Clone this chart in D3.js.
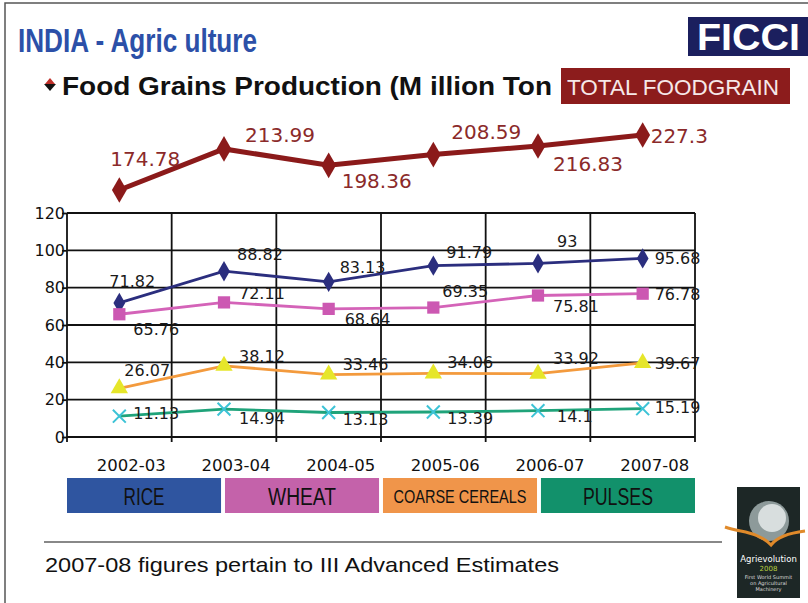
<!DOCTYPE html>
<html>
<head>
<meta charset="utf-8">
<script src="https://cdn.jsdelivr.net/npm/d3@7"></script>
<style>
  body { margin: 0; background: #fff; }
  svg { display: block; }
</style>
</head>
<body>
<svg id="slide" width="808" height="603"></svg>
<script>
// data
const years = ['2002-03', '2003-04', '2004-05', '2005-06', '2006-07', '2007-08'];
const total = [174.78, 213.99, 198.36, 208.59, 216.83, 227.3];
const rice = [71.82, 88.82, 83.13, 91.79, 93, 95.68];
const wheat = [65.76, 72.11, 68.64, 69.35, 75.81, 76.78];
const coarse = [26.07, 38.12, 33.46, 34.06, 33.92, 39.67];
const pulses = [11.13, 14.94, 13.13, 13.39, 14.1, 15.19];
const yTicks = [0, 20, 40, 60, 80, 100, 120];
const legendLabels = ['RICE', 'WHEAT', 'COARSE CEREALS', 'PULSES'];

// label placement (start x offset, centre y offset) per point
const totalLabelPos = [[-9, -31], [21, -14], [13, 15], [18, -23], [15, 18], [8, 1]];
const riceLabelPos = [[-10, -22], [13, -17], [11, -15], [13, -13], [19, -22], [12, 0]];
const wheatLabelPos = [[14, 15], [15, -9], [16, 10], [9, -16], [15, 11], [12, 1]];
const coarseLabelPos = [[5, -18], [15, -10], [14, -10], [14, -11], [15, -15], [12, 0]];
const pulsesLabelPos = [[14, -3], [15, 9], [14, 7], [14, 6], [19, 6], [12, -1]];
// legend text widths, squeezed like the condensed face on the slide
const legendTextWidth = [41, 68, 133, 70];

const svg = d3.select('#slide');
const narrow = '"Liberation Sans Narrow", "Liberation Sans", Arial, sans-serif';
const plain = '"DejaVu Sans", Verdana, sans-serif';

// slide frame
svg.append('path')
  .attr('d', 'M5,603 V3 H808')
  .attr('fill', 'none')
  .attr('stroke', '#555')
  .attr('stroke-width', 1.5);

// header
svg.append('text')
  .attr('x', 18)
  .attr('y', 52)
  .attr('textLength', 239)
  .attr('lengthAdjust', 'spacingAndGlyphs')
  .style('font-family', narrow)
  .style('font-weight', 'bold')
  .style('font-size', '33px')
  .attr('fill', '#2c50a8')
  .text('INDIA - Agric ulture');

svg.append('rect')
  .attr('x', 688).attr('y', 17)
  .attr('width', 120).attr('height', 39)
  .attr('fill', '#1b1f5e');
svg.append('text')
  .attr('x', 697)
  .attr('y', 50)
  .attr('textLength', 103)
  .attr('lengthAdjust', 'spacingAndGlyphs')
  .style('font-family', '"Liberation Sans", Arial, sans-serif')
  .style('font-weight', 'bold')
  .style('font-size', '36px')
  .attr('fill', '#fff')
  .text('FICCI');

// bullet
svg.append('path').attr('d', 'M45,84 L50,78 L55,84 Z').attr('fill', '#c0302a');
svg.append('path').attr('d', 'M44,84 L56,84 L50,91 Z').attr('fill', '#111');

svg.append('text')
  .attr('x', 62)
  .attr('y', 95)
  .attr('textLength', 490)
  .attr('lengthAdjust', 'spacingAndGlyphs')
  .style('font-family', '"Liberation Sans", Arial, sans-serif')
  .style('font-weight', 'bold')
  .style('font-size', '25px')
  .attr('fill', '#111')
  .text('Food Grains Production (M illion Ton');

svg.append('rect')
  .attr('x', 561).attr('y', 68)
  .attr('width', 229).attr('height', 36)
  .attr('fill', '#8c1c1c');
svg.append('text')
  .attr('x', 567)
  .attr('y', 95)
  .attr('textLength', 212)
  .attr('lengthAdjust', 'spacingAndGlyphs')
  .style('font-family', '"Liberation Sans", Arial, sans-serif')
  .style('font-size', '22px')
  .attr('fill', '#f6e8e8')
  .text('TOTAL FOODGRAIN');

// scales
const x = d3.scaleBand().domain(years).range([67, 695]).padding(0);
const y = d3.scaleLinear().domain([0, 120]).range([437, 213]);
const yTotal = d3.scaleLinear().domain([174.78, 227.3]).range([190, 135]);
const cx = (d, i) => x(years[i]) + x.bandwidth() / 2;

// grid
const grid = svg.append('g').attr('stroke', '#111').attr('stroke-width', 1.8);
grid.selectAll('line.h')
  .data(yTicks)
  .enter()
  .append('line')
  .attr('class', 'h')
  .attr('x1', 67).attr('x2', 695)
  .attr('y1', (d) => y(d)).attr('y2', (d) => y(d));
grid.selectAll('line.v')
  .data(years.map((d) => x(d)).concat([x.range()[1]]))
  .enter()
  .append('line')
  .attr('class', 'v')
  .attr('x1', (d) => d).attr('x2', (d) => d)
  .attr('y1', y(120)).attr('y2', y(0) + 5);

// y axis
const yAxis = svg.append('g')
  .attr('transform', 'translate(67,0)')
  .call(d3.axisLeft(y).tickValues(yTicks).tickSize(5).tickPadding(-3));
yAxis.select('.domain').remove();
yAxis.selectAll('line').attr('stroke', '#111').attr('stroke-width', 1.8);
yAxis.selectAll('text')
  .style('font-family', plain)
  .style('font-size', '16px')
  .attr('fill', '#111');

// x axis
const xAxis = svg.append('g')
  .attr('transform', `translate(0,${y(0)})`)
  .call(d3.axisBottom(x).tickSize(0).tickPadding(22));
xAxis.select('.domain').remove();
xAxis.selectAll('text')
  .attr('dx', 12)
  .style('font-family', plain)
  .style('font-size', '16.5px')
  .attr('fill', '#111');

// series
const series = [
  { values: rice, line: '#2b2e7e', fill: '#2b2e7e', shape: 'diamond', pos: riceLabelPos },
  { values: wheat, line: '#d463b8', fill: '#cc58b2', shape: 'square', pos: wheatLabelPos },
  { values: coarse, line: '#f39a3d', fill: '#e6e62a', shape: 'triangle', pos: coarseLabelPos },
  { values: pulses, line: '#1fa37a', fill: '#3cc3d6', shape: 'cross', pos: pulsesLabelPos },
];

const line = (yScale) => d3.line().x(cx).y((d) => yScale(d));

function marker(g, shape, color, size) {
  if (shape === 'cross') {
    g.append('path')
      .attr('d', d3.symbol(d3.symbolX, size))
      .attr('fill', 'none')
      .attr('stroke', color)
      .attr('stroke-width', 2);
  } else {
    const s = { diamond: d3.symbolDiamond, square: d3.symbolSquare, triangle: d3.symbolTriangle }[shape];
    g.append('path').attr('d', d3.symbol(s, size)).attr('fill', color);
  }
}

series.forEach((s) => {
  svg.append('path')
    .datum(s.values)
    .attr('d', line(y))
    .attr('fill', 'none')
    .attr('stroke', s.line)
    .attr('stroke-width', 2.8);
  svg.selectAll(null)
    .data(s.values)
    .enter()
    .append('g')
    .attr('transform', (d, i) => `translate(${cx(d, i)},${y(d)})`)
    .each(function () {
      const size = s.shape === 'square' ? 150 : s.shape === 'triangle' ? 130 : s.shape === 'cross' ? 110 : 120;
      marker(d3.select(this), s.shape, s.fill, size);
    });
  svg.selectAll(null)
    .data(s.values)
    .enter()
    .append('text')
    .attr('x', (d, i) => cx(d, i) + s.pos[i][0])
    .attr('y', (d, i) => y(d) + s.pos[i][1])
    .attr('dy', '0.36em')
    .style('font-family', plain)
    .style('font-size', '16px')
    .attr('fill', '#1a1a1a')
    .text((d) => d);
});

// total foodgrain line
svg.append('path')
  .datum(total)
  .attr('d', line(yTotal))
  .attr('fill', 'none')
  .attr('stroke', '#8b1a1a')
  .attr('stroke-width', 5);
svg.selectAll(null)
  .data(total)
  .enter()
  .append('path')
  .attr('transform', (d, i) => `translate(${cx(d, i)},${yTotal(d)})`)
  .attr('d', d3.symbol(d3.symbolDiamond, 190))
  .attr('fill', '#8b1a1a');
svg.selectAll(null)
  .data(total)
  .enter()
  .append('text')
  .attr('x', (d, i) => cx(d, i) + totalLabelPos[i][0])
  .attr('y', (d, i) => yTotal(d) + totalLabelPos[i][1])
  .attr('dy', '0.36em')
  .style('font-family', plain)
  .style('font-size', '20px')
  .attr('fill', '#8b2a2a')
  .text((d) => d);

// legend bar
const legendColors = ['#2f55a0', '#c462aa', '#f0954a', '#12916b'];
const lx = d3.scaleBand().domain(legendLabels).range([67, 695]).paddingInner(0.025);
const leg = svg.selectAll('g.leg')
  .data(legendLabels)
  .enter()
  .append('g')
  .attr('class', 'leg');
leg.append('rect')
  .attr('x', (d) => lx(d))
  .attr('y', 478)
  .attr('width', lx.bandwidth())
  .attr('height', 35)
  .attr('fill', (d, i) => legendColors[i]);
leg.append('text')
  .attr('x', (d, i) => lx(d) + (lx.bandwidth() - legendTextWidth[i]) / 2)
  .attr('y', (d) => (d.length > 8 ? 503 : 505))
  .attr('textLength', (d, i) => legendTextWidth[i])
  .attr('lengthAdjust', 'spacingAndGlyphs')
  .style('font-family', narrow)
  .style('font-size', (d) => (d.length > 8 ? '18px' : '23px'))
  .attr('fill', '#111')
  .text((d) => d);

// footnote
svg.append('line')
  .attr('x1', 44).attr('x2', 722)
  .attr('y1', 542).attr('y2', 542)
  .attr('stroke', '#888')
  .attr('stroke-width', 2);
svg.append('text')
  .attr('x', 45)
  .attr('y', 572)
  .attr('textLength', 514)
  .attr('lengthAdjust', 'spacingAndGlyphs')
  .style('font-family', '"Liberation Sans", Arial, sans-serif')
  .style('font-size', '21px')
  .attr('fill', '#111')
  .text('2007-08 figures pertain to III Advanced Estimates');

// Agrievolution badge
const badge = svg.append('g').attr('transform', 'translate(737,487)');
badge.append('rect').attr('width', 63).attr('height', 111).attr('fill', '#1d2726');
badge.append('circle').attr('cx', 32).attr('cy', 34).attr('r', 20).attr('fill', '#8d9a9a');
badge.append('circle').attr('cx', 35).attr('cy', 31).attr('r', 14).attr('fill', '#d8dede');
badge.append('path')
  .attr('d', 'M-12,40 C5,46 20,44 34,58 C40,50 52,46 68,44')
  .attr('fill', 'none')
  .attr('stroke', '#e08a2a')
  .attr('stroke-width', 3);
badge.append('text')
  .attr('x', 31.5).attr('y', 75)
  .attr('text-anchor', 'middle')
  .style('font-family', plain)
  .style('font-size', '8.5px')
  .attr('fill', '#fff')
  .text('Agrievolution');
badge.append('text')
  .attr('x', 31.5).attr('y', 84)
  .attr('text-anchor', 'middle')
  .style('font-family', plain)
  .style('font-size', '7px')
  .attr('fill', '#b8d040')
  .text('2008');
['First World Summit', 'on Agricultural', 'Machinery'].forEach((t, i) => {
  badge.append('text')
    .attr('x', 31.5).attr('y', 92 + i * 6)
    .attr('text-anchor', 'middle')
    .style('font-family', plain)
    .style('font-size', '5px')
    .attr('fill', '#ddd')
    .text(t);
});
</script>
</body>
</html>
